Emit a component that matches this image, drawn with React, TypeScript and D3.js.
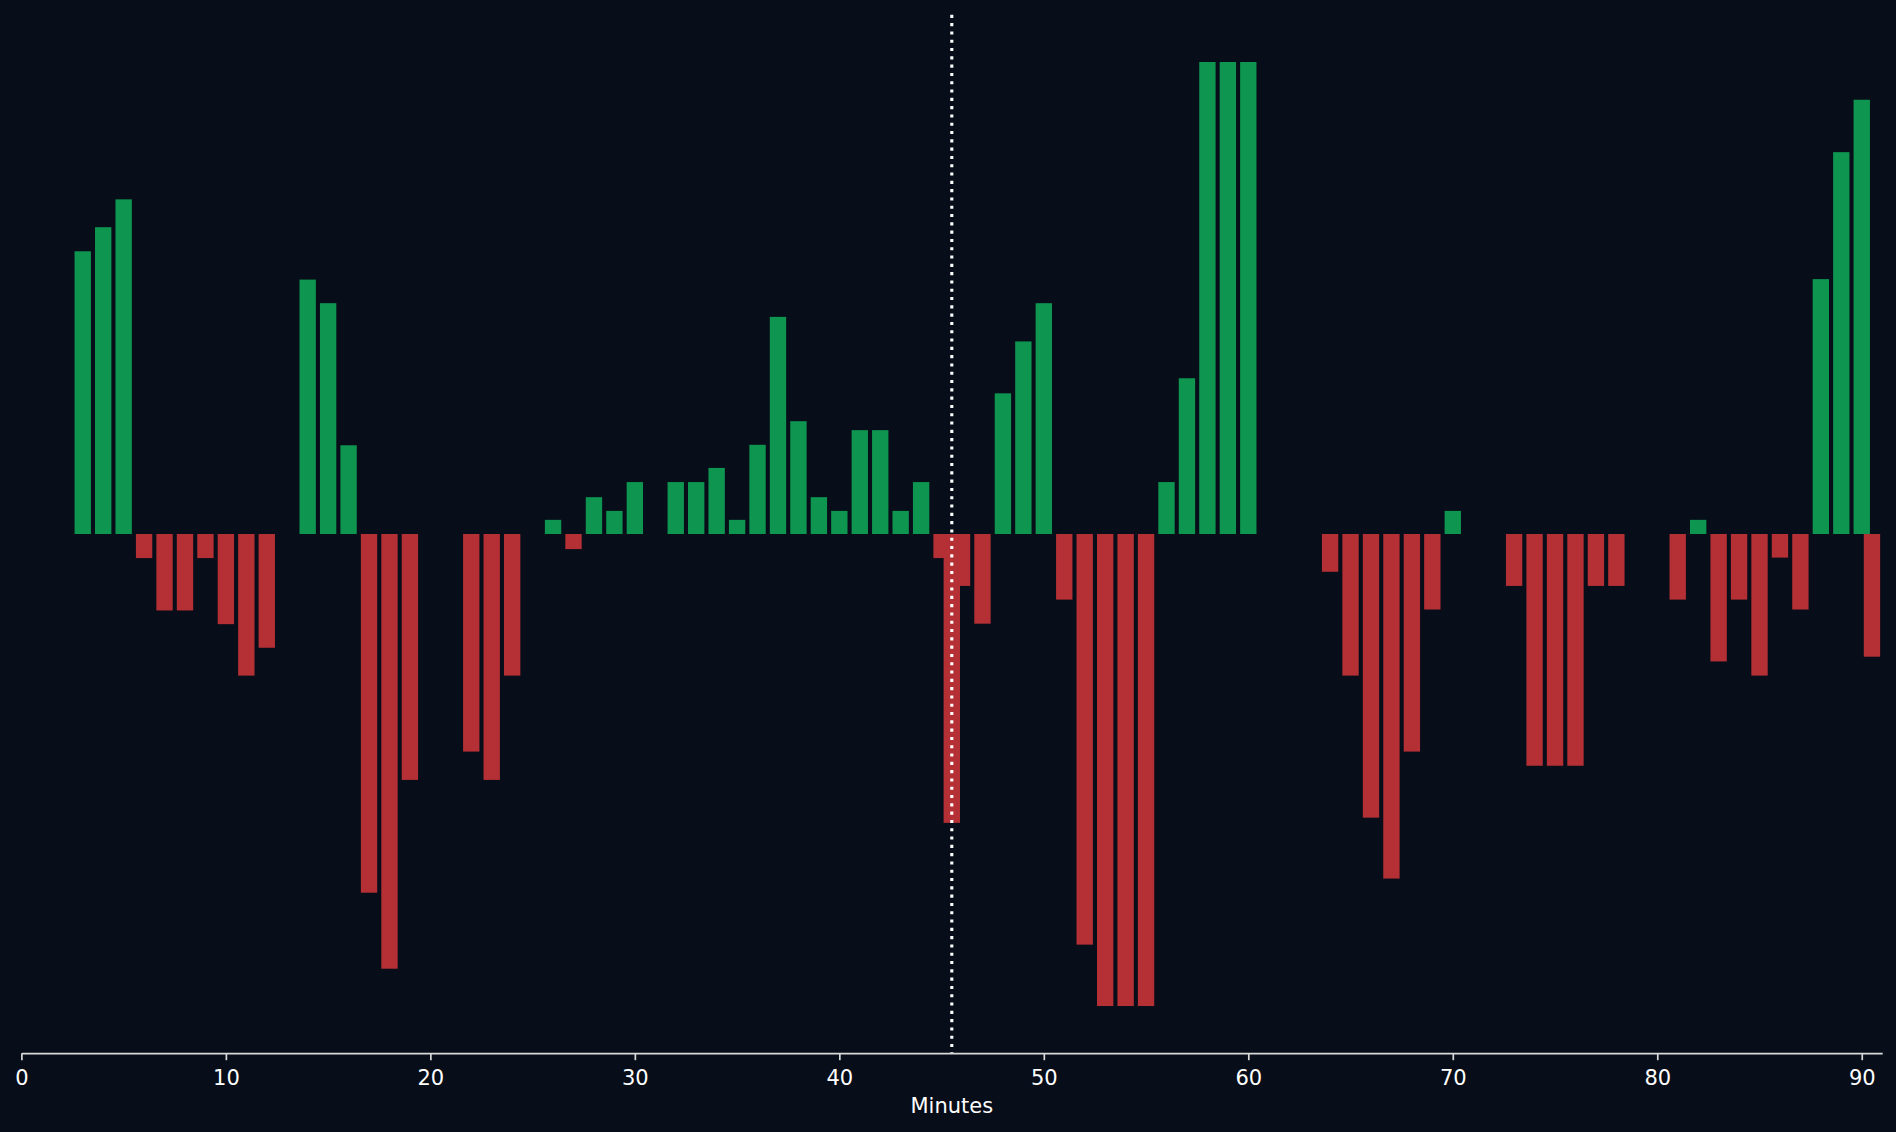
import React, { useEffect, useRef } from 'react';
import * as d3 from 'd3';

// regular-time minutes and momentum (normalised to +/-100)
const minutes = [
  3, 4, 5, 6, 7, 8, 9, 10, 11, 12, 14, 15, 16, 17, 18, 19, 22, 23, 24,
  26, 27, 28, 29, 30, 32, 33, 34, 35, 36, 37, 38, 39, 40, 41, 42, 43, 44, 45,
  46, 47, 48, 49, 50, 51, 52, 53, 54, 55, 56, 57, 58, 59, 60,
  64, 65, 66, 67, 68, 69, 70, 73, 74, 75, 76, 77, 78,
  81, 82, 83, 84, 85, 86, 87, 88, 89, 90,
];
const momentum = [
  59.9, 65.0, 70.9, -5.1, -16.2, -16.2, -5.1, -19.1, -30.0, -24.1, 53.9, 48.9, 18.8, -76.0, -92.1, -52.1, -46.1, -52.1, -30.0,
  3.0, -3.2, 7.8, 4.9, 11.0, 11.0, 11.0, 14.0, 3.0, 18.9, 46.0, 23.9, 7.8, 4.9, 22.0, 22.0, 4.9, 11.0, -5.1,
  -11.0, -19.0, 29.8, 40.8, 48.9, -13.9, -87.0, -100, -100, -100, 11.0, 33.0, 100, 100, 100,
  -8.0, -30.0, -60.1, -73.0, -46.1, -16.0, 4.9, -11.0, -49.1, -49.1, -49.1, -11.0, -11.0,
  -13.9, 3.0, -27.0, -13.9, -30.0, -5.0, -16.0, 54.0, 80.9, 92.0,
];

// stoppage time, plotted at x.5
const stoppageMinutes = [45.5, 90.5];
const stoppageMomentum = [-61.2, -26.0];

const xTicks = [0, 10, 20, 30, 40, 50, 60, 70, 80, 90];
const halfTime = 45.5;

const WIDTH = 1896;
const HEIGHT = 1132;
const BG = '#070d19';
const GREEN = '#0e9650';
const RED = '#b53035';
const AXIS = '#d9d9d9';
const FONT = '"DejaVu Sans", sans-serif';

const App: React.FC = () => {
  const svgRef = useRef<SVGSVGElement>(null);

  useEffect(() => {
    if (!svgRef.current) return;
    const svg = d3.select(svgRef.current);
    svg.selectAll('*').remove();

    const left = 21.4;
    const right = 1882.2;
    const top = 14.8;
    const bottom = 1053.2;

    const x = d3.scaleLinear().domain([0, 91]).range([left, right]);
    const y = d3.scaleLinear().domain([-110, 110]).range([bottom, top]);
    const barW = x(0.8) - x(0);

    svg.append('rect')
      .attr('width', WIDTH)
      .attr('height', HEIGHT)
      .attr('fill', BG);

    const bars = [
      ...minutes.map((m, i) => ({ m, v: momentum[i] })),
      ...stoppageMinutes.map((m, i) => ({ m, v: stoppageMomentum[i] })),
    ];

    svg.append('g')
      .selectAll('rect')
      .data(bars)
      .enter()
      .append('rect')
      .attr('x', d => x(d.m) - barW / 2)
      .attr('width', barW)
      .attr('y', d => Math.min(y(d.v), y(0)))
      .attr('height', d => Math.abs(y(d.v) - y(0)))
      .attr('fill', d => (d.v >= 0 ? GREEN : RED));

    // half-time marker
    svg.append('line')
      .attr('x1', x(halfTime))
      .attr('x2', x(halfTime))
      .attr('y1', top)
      .attr('y2', bottom)
      .attr('stroke', '#ffffff')
      .attr('stroke-width', 3.1)
      .attr('stroke-dasharray', '3.1,5.2');

    // x axis
    const axis = svg.append('g')
      .attr('transform', `translate(0,${bottom})`)
      .call(d3.axisBottom(x).tickValues(xTicks).tickSize(7).tickPadding(10).tickSizeOuter(0));
    axis.select('.domain')
      .attr('stroke', AXIS)
      .attr('stroke-width', 1.7);
    axis.selectAll('.tick line')
      .attr('stroke', AXIS)
      .attr('stroke-width', 1.7);
    axis.selectAll('.tick text')
      .attr('fill', '#ffffff')
      .style('font-family', FONT)
      .style('font-size', '21px');

    svg.append('text')
      .attr('x', (left + right) / 2)
      .attr('y', 1112.7)
      .attr('text-anchor', 'middle')
      .attr('fill', '#ffffff')
      .style('font-family', FONT)
      .style('font-size', '21px')
      .text('Minutes');
  }, []);

  return (
    <div style={{ position: 'fixed', left: 0, top: 0, width: WIDTH, height: HEIGHT, background: BG }}>
      <svg ref={svgRef} width={WIDTH} height={HEIGHT} style={{ display: 'block' }}></svg>
    </div>
  );
};

export default App;
